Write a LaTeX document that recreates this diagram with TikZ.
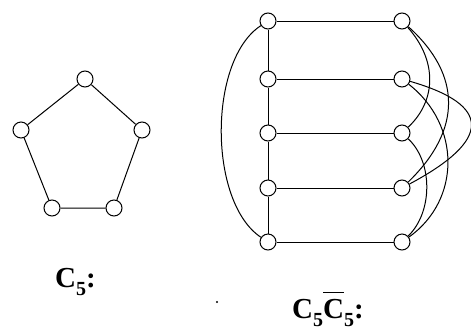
\documentclass[tikz,border=0pt]{standalone}
\usepackage{fontspec}
\setmainfont{Liberation Serif}
\newcommand\subfive{\raisebox{-8pt}{\fontsize{20}{20}\selectfont 5}}
\newcommand\ovlC{\vbox{\hrule height 1.2pt\kern 6pt\hbox{C}}}
\begin{document}
\begin{tikzpicture}[x=1pt,y=-1pt,
  v/.style={circle,draw,fill=white,minimum size=16pt,inner sep=0pt,line width=1pt},
  e/.style={line width=1pt},
  lab/.style={font=\fontsize{29}{30}\selectfont\bfseries,inner sep=0pt,anchor=base west}]
\useasboundingbox (0,0) rectangle (471,333);
% C5 pentagon
\node[v] (p1) at (85,79) {};
\node[v] (p2) at (142,130) {};
\node[v] (p3) at (114,208) {};
\node[v] (p4) at (52,208) {};
\node[v] (p5) at (21,130) {};
\draw[e] (p1) -- (p2) -- (p3) -- (p4) -- (p5) -- (p1);
% product graph
\foreach \i/\y in {1/21,2/79,3/133,4/188,5/242}{
  \node[v] (l\i) at (268,\y) {};
  \node[v] (r\i) at (402,\y) {};
}
\draw[e] (l1) -- (l2) -- (l3) -- (l4) -- (l5);
\foreach \i in {1,...,5}{ \draw[e] (l\i) -- (r\i); }
\draw[e] (l1) .. controls (208,60) and (208,202) .. (l5);
\draw[e] (r1) .. controls (437,60) and (437,100) .. (r3);
\draw[e] (r3) .. controls (433,162) and (433,212) .. (r5);
\draw[e] (r1) .. controls (462,75) and (462,130) .. (r4);
\draw[e] (r2) .. controls (461,125) and (461,200) .. (r5);
\draw[e] (r2) .. controls (492,105) and (492,140) .. (r4);
% labels
\node[lab] (t1) at (55,287) {C\subfive:};
\node[lab] (t2) at (292,318) {C\subfive\ovlC\subfive:};
\fill (217,302) circle (1.1);
\end{tikzpicture}
\end{document}
